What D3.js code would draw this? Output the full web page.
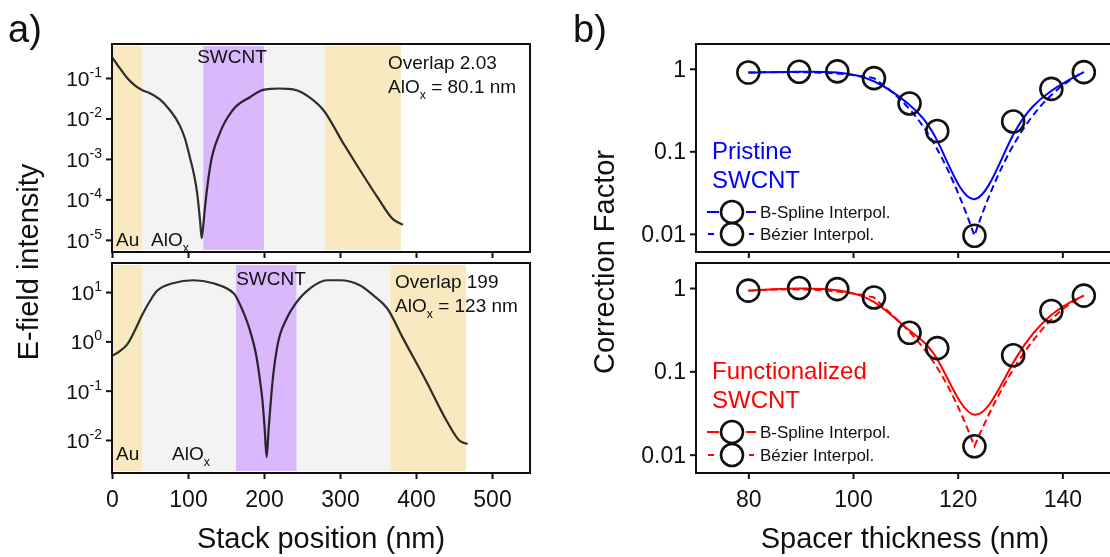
<!DOCTYPE html>
<html lang="en">
<head>
<meta charset="UTF-8">
<title>E-field intensity and correction factor</title>
<script src="https://cdn.jsdelivr.net/npm/d3@7"></script>
<style>
    body { margin: 0; background: #fff; }
    svg { display: block; font-family: "Liberation Sans", Arial, sans-serif; }
</style>
</head>
<body>
<script>
'use strict';

// ---- data: a) E-field profiles ----
var posTop = [0, 10, 20, 30, 40, 50, 63, 76, 89, 96, 103, 108, 112, 116, 118, 120, 122, 129, 142, 159, 182, 199, 210, 220, 230, 238, 250, 260, 278, 304, 326, 349, 370, 383];
var fieldTop = [0.33, 0.178, 0.1, 0.066, 0.05, 0.042, 0.0295, 0.0162, 0.0068, 3.2e-3, 1.0e-3, 4.0e-4, 1.45e-4, 2.8e-5, 1.1e-5, 2.2e-5, 5.5e-5, 6.3e-4, 4.4e-3, 0.0162, 0.034, 0.051, 0.054, 0.055, 0.054, 0.0525, 0.044, 0.033, 0.0162, 2.5e-3, 5.4e-4, 1.15e-4, 3.2e-5, 2.35e-5];

var posBot = [0, 10, 20, 30, 39.5, 50, 59, 80, 107, 133, 160, 172, 182, 190, 195, 198, 201, 203.5, 206, 209, 212, 217, 230, 242, 261, 283, 300, 326, 345, 362, 383, 414, 441, 458, 468];
var fieldBot = [0.51, 0.63, 0.87, 1.66, 3.4, 6.6, 10.5, 15.1, 17.4, 15.1, 9.5, 4.2, 1.58, 0.5, 0.15, 0.063, 0.0158, 0.0045, 0.0158, 0.063, 0.2, 0.72, 2.95, 6.0, 12.0, 17.4, 17.4, 13.8, 8.3, 4.7, 1.15, 0.15, 0.0234, 0.0095, 0.0083];

// layer stacks [material, start nm, end nm]
var layersTop = [['Au', 0, 40], ['AlOx', 40, 120.1], ['SWCNT', 120.1, 200.1], ['AlOx', 200.1, 280.2], ['Au', 280.2, 380.2]];
var layersBot = [['Au', 0, 40], ['AlOx', 40, 163], ['SWCNT', 163, 243], ['AlOx', 243, 366], ['Au', 366, 466]];

var stackTicks = [0, 100, 200, 300, 400, 500];
var expTop = [-1, -2, -3, -4, -5];
var expBot = [1, 0, -1, -2];

// ---- data: b) correction factors ----
var spacer = [80, 89.7, 97, 104, 110.8, 116.1, 123.2, 130.6, 137.9, 144.1];
var pristine = [0.90, 0.92, 0.93, 0.77, 0.38, 0.176, 0.0095, 0.23, 0.57, 0.91];
var functionalized = [0.93, 1.0, 0.97, 0.77, 0.29, 0.19, 0.0126, 0.156, 0.53, 0.81];
var spacerTicks = [80, 100, 120, 140];
var factorTicks = [1, 0.1, 0.01];

var W = 1110, H = 557;
var ink = '#111';
var fill = { Au: '#f8e9c0', AlOx: '#f3f3f3', SWCNT: '#d9b8fb' };

var svg = d3.select('body').append('svg')
    .attr('width', W)
    .attr('height', H);

var lx0 = 112, lx1 = 530, rx0 = 696, rx1 = 1114.7;
var topY = [44, 252], botY = [263, 473];

var xStack = d3.scaleLinear().domain([0, 550]).range([lx0, lx1]);
var xSpacer = d3.scaleLinear().domain([70, 150]).range([rx0, rx1]);

function frame(x0, x1, y) {
    svg.append('rect')
        .attr('x', x0).attr('y', y[0])
        .attr('width', x1 - x0).attr('height', y[1] - y[0])
        .attr('fill', 'none').attr('stroke', ink).attr('stroke-width', 2);
}

function xTicks(scale, ticks, yPos, labels) {
    var g = svg.append('g').attr('transform', 'translate(0,' + yPos + ')');
    g.call(d3.axisBottom(scale).tickValues(ticks).tickSize(6).tickPadding(6)
        .tickFormat(labels ? d3.format('d') : ''));
    g.select('.domain').remove();
    g.selectAll('line').attr('stroke', ink).attr('stroke-width', 2);
    g.selectAll('text').attr('fill', ink).attr('font-size', 23)
        .attr('font-family', '"Liberation Sans", Arial, sans-serif')
        .attr('dy', '0.95em');
}

function yTicks(scale, ticks, xPos, fmt, size) {
    var g = svg.append('g').attr('transform', 'translate(' + xPos + ',0)');
    g.call(d3.axisLeft(scale).tickValues(ticks).tickSize(6).tickFormat(''));
    g.select('.domain').remove();
    g.selectAll('line').attr('stroke', ink).attr('stroke-width', 2);
    ticks.forEach(function (t) {
        var txt = svg.append('text')
            .attr('x', xPos - 10).attr('y', scale(t) + 8)
            .attr('text-anchor', 'end').attr('fill', ink).attr('font-size', size);
        fmt(txt, t);
    });
}

function powLabel(txt, t) {
    var e = Math.round(Math.log10(t));
    txt.append('tspan').text('10');
    txt.append('tspan').attr('font-size', 14).attr('dy', -9).text(String(e));
}

function label(x, y, str, size, color, anchor) {
    return svg.append('text').attr('x', x).attr('y', y)
        .attr('font-size', size).attr('fill', color || ink)
        .attr('text-anchor', anchor || 'start').text(str);
}

function aloxLabel(x, y, str, size) {
    var t = svg.append('text').attr('x', x).attr('y', y)
        .attr('font-size', size).attr('fill', ink);
    t.append('tspan').text('AlO');
    t.append('tspan').attr('font-size', size * 0.65).attr('dy', 6).text('x');
    if (str) t.append('tspan').attr('dy', -6).text(str);
    return t;
}

// ---- panel a ----
function fieldPanel(yr, domain, layers, pos, field) {
    var y = d3.scaleLog().domain(domain).range([yr[1], yr[0]]);
    svg.append('g').selectAll('rect')
        .data(layers).enter().append('rect')
        .attr('x', function (d) { return xStack(d[1]); })
        .attr('width', function (d) { return xStack(d[2]) - xStack(d[1]); })
        .attr('y', yr[0] + 2).attr('height', yr[1] - yr[0] - 4)
        .attr('fill', function (d) { return fill[d[0]]; });
    var line = d3.line()
        .x(function (d, i) { return xStack(pos[i]); })
        .y(function (d) { return y(d); })
        .curve(d3.curveMonotoneX);
    svg.append('path').datum(field)
        .attr('d', line).attr('fill', 'none')
        .attr('stroke', '#303030').attr('stroke-width', 2.2)
        .style('mix-blend-mode', 'multiply');
    frame(lx0, lx1, yr);
    return y;
}

var yTop = fieldPanel(topY, [Math.pow(10, -5.3), Math.pow(10, -0.16)], layersTop, posTop, fieldTop);
var yBot = fieldPanel(botY, [Math.pow(10, -2.67), Math.pow(10, 1.59)], layersBot, posBot, fieldBot);

yTicks(yTop, expTop.map(function (e) { return Math.pow(10, e); }), lx0, powLabel, 21);
yTicks(yBot, expBot.map(function (e) { return Math.pow(10, e); }), lx0, powLabel, 21);
xTicks(xStack, stackTicks, topY[1], false);
xTicks(xStack, stackTicks, botY[1], true);

label(232, 63, 'SWCNT', 19, ink, 'middle');
label(116, 246, 'Au', 19);
aloxLabel(151, 246, '', 19);
label(388, 69, 'Overlap 2.03', 19);
aloxLabel(388, 93, ' = 80.1 nm', 19);

label(271, 285, 'SWCNT', 19, ink, 'middle');
label(116, 460, 'Au', 19);
aloxLabel(172, 460, '', 19);
label(395, 288, 'Overlap 199', 19);
aloxLabel(395, 312, ' = 123 nm', 19);

label(8, 42, 'a)', 38);
label(321, 548, 'Stack position (nm)', 29, ink, 'middle');
svg.append('text')
    .attr('transform', 'translate(38,262) rotate(-90)')
    .attr('text-anchor', 'middle').attr('font-size', 29).attr('fill', ink)
    .text('E-field intensity');

// ---- panel b ----
function bezierThrough(pts) {
    // cubic segments: end points on curve, inner points as controls
    var p = d3.path();
    p.moveTo(pts[0][0], pts[0][1]);
    for (var i = 1; i + 2 < pts.length; i += 3) {
        p.bezierCurveTo(pts[i][0], pts[i][1], pts[i + 1][0], pts[i + 1][1], pts[i + 2][0], pts[i + 2][1]);
    }
    return p.toString();
}

function factorPanel(yr, values, color, title, textY, legendY) {
    var y = d3.scaleLog().domain([Math.pow(10, -2.22), Math.pow(10, 0.3)]).range([yr[1], yr[0]]);
    var pts = values.map(function (v, i) { return [xSpacer(spacer[i]), y(v)]; });
    svg.append('path')
        .attr('d', d3.line().curve(d3.curveBasis)(pts))
        .attr('fill', 'none').attr('stroke', color).attr('stroke-width', 2);
    svg.append('path')
        .attr('d', bezierThrough(pts))
        .attr('fill', 'none').attr('stroke', color).attr('stroke-width', 2)
        .attr('stroke-dasharray', '7,4');
    svg.append('g').selectAll('circle')
        .data(pts).enter().append('circle')
        .attr('cx', function (d) { return d[0]; })
        .attr('cy', function (d) { return d[1]; })
        .attr('r', 11).attr('fill', 'none')
        .attr('stroke', ink).attr('stroke-width', 2.6);
    frame(rx0, rx1, yr);
    yTicks(y, factorTicks, rx0, function (txt, t) { txt.text(String(t)); }, 23);

    label(712, textY[0], title[0], 24, color);
    label(712, textY[1], title[1], 24, color);
    var names = ['B-Spline Interpol.', 'Bézier Interpol.'];
    names.forEach(function (n, i) {
        var ly = legendY[i];
        var dash = i === 0 ? [[707, 719], [746, 756]] : [[708, 714], [749, 754]];
        dash.forEach(function (s) {
            svg.append('line').attr('x1', s[0]).attr('x2', s[1])
                .attr('y1', ly).attr('y2', ly)
                .attr('stroke', color).attr('stroke-width', 2);
        });
        svg.append('circle').attr('cx', 732).attr('cy', ly).attr('r', 11)
            .attr('fill', 'none').attr('stroke', ink).attr('stroke-width', 2.6);
        label(760, ly + 6, n, 17);
    });
    return y;
}

factorPanel(topY, pristine, '#0000ff', ['Pristine', 'SWCNT'], [159, 188], [212, 234]);
factorPanel(botY, functionalized, '#ff0000', ['Functionalized', 'SWCNT'], [379, 408], [432, 455]);
xTicks(xSpacer, spacerTicks, topY[1], false);
xTicks(xSpacer, spacerTicks, botY[1], true);

label(573, 42, 'b)', 38);
label(905, 548, 'Spacer thickness (nm)', 29, ink, 'middle');
svg.append('text')
    .attr('transform', 'translate(614,262) rotate(-90)')
    .attr('text-anchor', 'middle').attr('font-size', 29).attr('fill', ink)
    .text('Correction Factor');
</script>
</body>
</html>
